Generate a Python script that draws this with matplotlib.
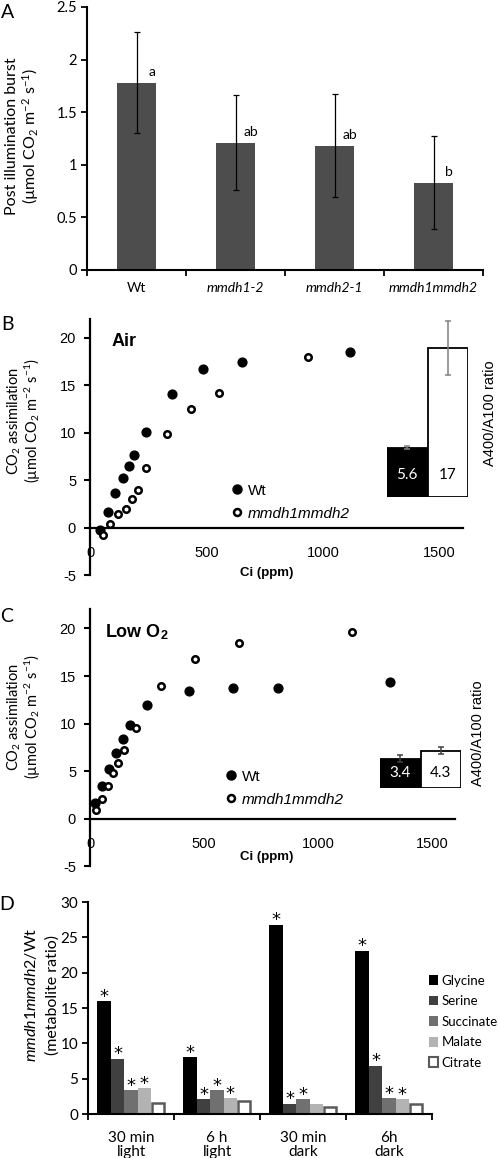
import matplotlib
matplotlib.use('Agg')
import matplotlib.pyplot as plt
from matplotlib.lines import Line2D
from matplotlib.patches import Patch

plt.rcParams['font.family'] = ['Lato', 'DejaVu Sans']
plt.rcParams['mathtext.fontset'] = 'custom'
plt.rcParams['mathtext.rm'] = 'Lato'
plt.rcParams['mathtext.it'] = 'Lato:italic'
plt.rcParams['mathtext.bf'] = 'Lato:bold'
plt.rcParams['mathtext.sf'] = 'Liberation Sans:bold'

# ---- data ----
# A: post illumination burst
genotypes = ['Wt', 'mmdh1-2', 'mmdh2-1', 'mmdh1mmdh2']
burst = [1.78, 1.21, 1.18, 0.83]
burst_err = [0.48, 0.45, 0.49, 0.44]
burst_letters = ['a', 'ab', 'ab', 'b']

# B: A/Ci in air
air_wt_ci = [43, 79, 107, 140, 169, 189, 242, 354, 487, 653, 1116]
air_wt_a = [-0.2, 1.7, 3.7, 5.2, 6.5, 7.7, 10.1, 14.1, 16.7, 17.4, 18.5]
air_mut_ci = [54, 87, 119, 155, 179, 206, 239, 332, 433, 553, 934]
air_mut_a = [-0.8, 0.4, 1.4, 2.0, 3.0, 4.0, 6.3, 9.9, 12.5, 14.2, 18.0]
air_ratio = [5.6, 17]
air_ratio_err = [0.2, 3.1]

# C: A/Ci in low O2
low_wt_ci = [23, 51, 83, 113, 143, 174, 249, 433, 627, 826, 1314]
low_wt_a = [1.7, 3.4, 5.2, 6.9, 8.4, 9.8, 11.9, 13.4, 13.7, 13.7, 14.4]
low_mut_ci = [28, 54, 77, 99, 123, 148, 200, 310, 462, 655, 1149]
low_mut_a = [0.9, 2.1, 3.4, 4.8, 5.9, 7.2, 9.5, 14.0, 16.8, 18.5, 19.6]
low_ratio = [3.4, 4.3]
low_ratio_err = [0.35, 0.4]

# D: metabolite ratios
conditions = ['30 min\nlight', '6 h\nlight', '30 min\ndark', '6h\ndark']
metabolites = ['Glycine', 'Serine', 'Succinate', 'Malate', 'Citrate']
glycine = [16.0, 8.0, 26.8, 23.1]
serine = [7.85, 2.1, 1.45, 6.85]
succinate = [3.4, 3.4, 2.1, 2.2]
malate = [3.7, 2.2, 1.45, 2.1]
citrate = [1.6, 1.8, 0.95, 1.4]
signif = [[1, 1, 1, 1], [1, 1, 1, 1], [1, 1, 1, 1], [1, 1, 0, 1], [0, 0, 0, 0]]

W, H = 498, 1158
fig = plt.figure(figsize=(W / 100, H / 100), dpi=100)


def px_axes(left, top, right, bottom):
    return fig.add_axes([left / W, 1 - bottom / H, (right - left) / W, (bottom - top) / H])


def fx(x):
    return x / W


def fy(y):
    return 1 - y / H


co2_unit = '(µmol CO$_2$ m$^{-2}$ s$^{-1}$)'

# ---------------- A ----------------
axA = px_axes(87, 7, 483, 270)
xs = range(len(genotypes))
axA.bar(xs, burst, width=0.4, color='#4d4d4d', zorder=2)
axA.errorbar(xs, burst, yerr=burst_err, fmt='none', ecolor='black', elinewidth=0.9,
             capsize=2, capthick=0.9, zorder=3)
for i, (v, lab) in enumerate(zip(burst, burst_letters)):
    axA.text(i + 0.16, v + 0.1, lab, ha='center', va='center', fontsize=10)
axA.set_xlim(-0.5, 3.5)
axA.set_ylim(0, 2.5)
axA.set_yticks([0, 0.5, 1, 1.5, 2, 2.5])
axA.set_yticklabels(['0', '0.5', '1', '1.5', '2', '2.5'], fontsize=10.5)
axA.set_xticks(list(xs))
axA.set_xticklabels(genotypes, fontsize=10)
for t in axA.get_xticklabels()[1:]:
    t.set_fontstyle('italic')
axA.set_xticks([-0.5, 0.5, 1.5, 2.5, 3.5], minor=True)
axA.tick_params(axis='x', which='major', length=0, pad=9)
axA.tick_params(axis='x', which='minor', length=4, width=1.3, direction='out')
axA.tick_params(axis='y', length=4, width=1.3, pad=3)
for s in ['top', 'right']:
    axA.spines[s].set_visible(False)
for s in ['left', 'bottom']:
    axA.spines[s].set_linewidth(1.5)
fig.text(fx(12), fy(136), 'Post illumination burst', rotation=90, ha='center', va='center', fontsize=11.5)
fig.text(fx(31), fy(136), co2_unit, rotation=90, ha='center', va='center', fontsize=11.5)
fig.text(fx(8), fy(12), 'A', ha='center', va='center', fontsize=14)


# ---------------- B & C ----------------
def aci_panel(ax, wt_ci, wt_a, mut_ci, mut_a, title, title_xy, leg_xy, label_y, xlab_y):
    ax.scatter(wt_ci, wt_a, s=40, color='black', zorder=3)
    ax.scatter(mut_ci, mut_a, s=22, facecolor='white', edgecolor='black', linewidth=1.8, zorder=3)
    ax.set_xlim(0, 1600)
    ax.set_ylim(-5, 22)
    ax.spines['bottom'].set_position(('data', 0))
    for s in ['top', 'right']:
        ax.spines[s].set_visible(False)
    for s in ['left', 'bottom']:
        ax.spines[s].set_linewidth(1.6)
    ax.set_xticks([0, 500, 1000, 1500])
    ax.set_xticklabels(['0', '500', '1000', '1500'], family='Liberation Sans', fontsize=10.5)
    ax.set_yticks([-5, 0, 5, 10, 15, 20])
    ax.set_yticklabels(['-5', '0', '5', '10', '15', '20'], family='Liberation Sans', fontsize=10.5)
    ax.tick_params(axis='x', length=0, pad=13)
    ax.tick_params(axis='y', length=4, width=1.5, pad=6)
    fig.text(fx(title_xy[0]), fy(title_xy[1]), title, ha='left', va='center',
             family='Liberation Sans', fontweight='bold', fontsize=13)
    handles = [Line2D([], [], ls='none', marker='o', ms=6.5, color='black'),
               Line2D([], [], ls='none', marker='o', ms=5, mfc='white', mec='black', mew=1.8)]
    leg = ax.legend(handles, ['Wt', 'mmdh1mmdh2'], loc='upper left',
                    bbox_to_anchor=(fx(leg_xy[0]), fy(leg_xy[1])), bbox_transform=fig.transFigure,
                    frameon=False, borderpad=0, handlelength=0.8, handletextpad=0.35,
                    labelspacing=0.6, prop={'family': 'Liberation Sans', 'size': 11})
    leg.get_texts()[1].set_fontstyle('italic')
    fig.text(fx(267), fy(xlab_y), 'Ci (ppm)', ha='center', va='center',
             family='Liberation Sans', fontweight='bold', fontsize=9.5)
    fig.text(fx(14), fy(label_y), 'CO$_2$ assimilation', rotation=90, ha='center', va='center', fontsize=10.5)
    fig.text(fx(33), fy(label_y), co2_unit, rotation=90, ha='center', va='center', fontsize=10.5)


def ratio_inset(left, right, bottom, ymax, vals, errs, ecolor, text_y, lab_xy):
    scale = 8.76
    ax = px_axes(left, bottom - ymax * scale, right, bottom)
    ax.bar([0, 1], vals, width=1.0, color=['black', 'white'], edgecolor='black', linewidth=1.3)
    ax.errorbar([0, 1], vals, yerr=errs, fmt='none', ecolor=ecolor, elinewidth=1.1,
                capsize=2.5, capthick=1.1)
    ax.set_xlim(-0.5, 1.5)
    ax.set_ylim(0, ymax)
    ax.axis('off')
    for i, v in enumerate(vals):
        ax.text(i, text_y, f'{v:g}', ha='center', va='center', fontsize=11,
                color='white' if i == 0 else 'black')
    fig.text(fx(lab_xy[0]), fy(lab_xy[1]), 'A400/A100 ratio', rotation=90, ha='center', va='center',
             family='Liberation Sans', fontsize=10.5)


axB = px_axes(90, 318.7, 462.8, 575.2)
aci_panel(axB, air_wt_ci, air_wt_a, air_mut_ci, air_mut_a, 'Air', (112, 342), (223, 476), 421, 573)
ratio_inset(387, 468, 496.7, 22, air_ratio, air_ratio_err, '#808080', 2.5, (490, 413))
fig.text(fx(7), fy(325), 'B', ha='center', va='center', fontsize=14)

axC = px_axes(90, 609.4, 454.8, 866.3)
aci_panel(axC, low_wt_ci, low_wt_a, low_mut_ci, low_mut_a, 'Low O$_\\mathsf{2}$', (105, 632), (217, 762), 717, 857)
ratio_inset(380, 461, 788.3, 6, low_ratio, low_ratio_err, '#404040', 1.75, (478, 733))
fig.text(fx(7), fy(617), 'C', ha='center', va='center', fontsize=14)

# ---------------- D ----------------
axD = px_axes(88, 902, 432, 1114)
series = [glycine, serine, succinate, malate, citrate]
colors = ['black', '#404040', '#707070', '#b3b3b3', 'white']
bw = 0.156
for j, (vals, c) in enumerate(zip(series, colors)):
    pos = [g + (j - 2) * bw for g in range(len(conditions))]
    if c == 'white':
        axD.bar(pos, vals, width=bw * 0.86, color='white', edgecolor='#5a5a5a', linewidth=1.8, zorder=2)
    else:
        axD.bar(pos, vals, width=bw, color=c, zorder=2)
    for p, v, s in zip(pos, vals, signif[j]):
        if s:
            axD.text(p, v - 0.1, '*', ha='center', va='baseline', fontsize=13, family='DejaVu Sans')
axD.set_xlim(-0.5, 3.5)
axD.set_ylim(0, 30)
axD.set_yticks([0, 5, 10, 15, 20, 25, 30])
axD.set_yticklabels(['0', '5', '10', '15', '20', '25', '30'], fontsize=11)
axD.set_xticks(range(len(conditions)))
axD.set_xticklabels(conditions, fontsize=11, linespacing=1.05)
axD.set_xticks([-0.5, 0.5, 1.5, 2.5, 3.5], minor=True)
axD.tick_params(axis='x', which='major', length=0, pad=12)
axD.tick_params(axis='x', which='minor', length=4, width=1.3, direction='out')
axD.tick_params(axis='y', length=4, width=1.3, pad=3)
for s in ['top', 'right']:
    axD.spines[s].set_visible(False)
for s in ['left', 'bottom']:
    axD.spines[s].set_linewidth(1.5)
handles = [Patch(facecolor=c, edgecolor='#5a5a5a' if c == 'white' else c, linewidth=1.5 if c == 'white' else 0)
           for c in colors]
axD.legend(handles, metabolites, loc='upper left', bbox_to_anchor=(fx(422), fy(968)),
           bbox_transform=fig.transFigure, frameon=False, borderpad=0, handlelength=0.75,
           handleheight=0.75, handletextpad=0.25, labelspacing=0.65, fontsize=9.5)
fig.text(fx(31), fy(995), '$\\mathit{mmdh1mmdh2}$/Wt', rotation=90, ha='center', va='center', fontsize=11.5)
fig.text(fx(53), fy(995), '(metabolite ratio)', rotation=90, ha='center', va='center', fontsize=11.5)
fig.text(fx(7), fy(905), 'D', ha='center', va='center', fontsize=14)

fig.savefig('out.png', dpi=100)
